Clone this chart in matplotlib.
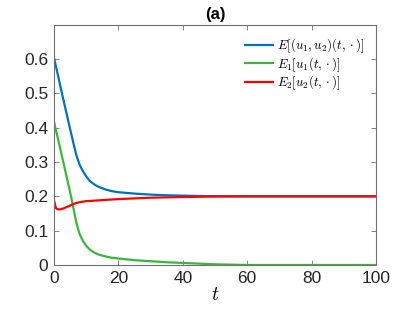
import matplotlib
matplotlib.use("Agg")
import matplotlib.pyplot as plt

plt.rcParams['font.family'] = ['Liberation Sans', 'DejaVu Sans']
plt.rcParams['mathtext.fontset'] = 'cm'

# data
t_E = [0, 1, 2, 3, 4, 5, 6, 7, 8, 9, 10, 11, 12, 13, 14, 16, 18, 20, 25, 30, 35, 40, 45, 50, 60, 70, 80, 90, 100]
E = [0.603, 0.562, 0.520, 0.478, 0.437, 0.396, 0.356, 0.318, 0.291, 0.273, 0.258, 0.246, 0.238, 0.232, 0.227, 0.220, 0.215, 0.212, 0.208, 0.205, 0.203, 0.202, 0.201, 0.2005, 0.2, 0.2, 0.2, 0.2, 0.2]

t_E1 = [0, 0.3, 1, 2, 3, 4, 5, 5.5, 6, 6.5, 7, 7.5, 8, 9, 10, 11, 12, 13, 14, 16, 18, 20, 25, 30, 35, 40, 45, 50, 55, 60, 70, 80, 90, 100]
E1 = [0.418, 0.404, 0.377, 0.336, 0.295, 0.254, 0.212, 0.19, 0.167, 0.143, 0.122, 0.104, 0.089, 0.070, 0.056, 0.046, 0.039, 0.034, 0.030, 0.025, 0.021, 0.019, 0.014, 0.011, 0.008, 0.006, 0.004, 0.002, 0.001, 0.0, 0.0, 0.0, 0.0, 0.0]

t_E2 = [0, 0.3, 0.6, 1, 1.5, 2, 3, 4, 5, 5.6, 7, 8.7, 10, 12, 15, 20, 25, 30, 35, 40, 50, 60, 70, 80, 90, 100]
E2 = [0.189, 0.176, 0.166, 0.163, 0.162, 0.162, 0.165, 0.169, 0.173, 0.176, 0.181, 0.184, 0.186, 0.187, 0.189, 0.192, 0.194, 0.196, 0.197, 0.198, 0.1995, 0.2, 0.2, 0.2, 0.2, 0.2]

labels = [r'$E[(u_1,u_2)(t,\cdot)]$', r'$E_1[u_1(t,\cdot)]$', r'$E_2[u_2(t,\cdot)]$']
colors = ['#0072BD', '#3CB53C', '#FF0000']
xticks = [0, 20, 40, 60, 80, 100]
yticks = [0, 0.1, 0.2, 0.3, 0.4, 0.5, 0.6]
ytick_labels = ['0', '0.1', '0.2', '0.3', '0.4', '0.5', '0.6']

fig = plt.figure(figsize=(4.15, 3.12), dpi=100)
ax = fig.add_axes([54/415, 1 - 265/312, (376-54)/415, (265-25)/312])

ax.plot(t_E, E, color=colors[0], lw=1.6, label=labels[0])
ax.plot(t_E1, E1, color=colors[1], lw=1.6, label=labels[1])
ax.plot(t_E2, E2, color=colors[2], lw=1.6, label=labels[2])

ax.set_xlim(0, 100)
ax.set_ylim(0, 0.699)
ax.set_xticks(xticks)
ax.set_xticklabels([str(x) for x in xticks])
ax.set_yticks(yticks)
ax.set_yticklabels(ytick_labels)

spine_col = '#707070'
for s in ax.spines.values():
    s.set_color(spine_col)
    s.set_linewidth(0.8)
ax.tick_params(direction='in', top=True, right=True, length=3.5, width=0.6,
               color=spine_col, labelsize=12.5, labelcolor='#262626', pad=4)

ax.set_xlabel(r'$t$', fontsize=14, labelpad=1)
ax.set_title('(a)', fontweight='bold', fontsize=12, pad=4)

leg = ax.legend(loc='upper right', bbox_to_anchor=(1.0, 1.0), frameon=False,
                fontsize=9.3, handlelength=2.2, handletextpad=0.3,
                labelspacing=0.0, borderaxespad=0.5)

fig.savefig('out.png', dpi=100)
